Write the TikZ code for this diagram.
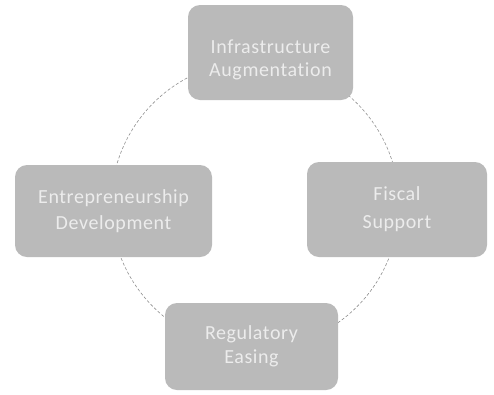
\documentclass[tikz,border=0pt]{standalone}
\usepackage{fontspec}
\setmainfont{Carlito}[Ligatures=NoCommon, LetterSpace=3]
\definecolor{boxgray}{RGB}{186,186,186}
\definecolor{txtgray}{RGB}{236,236,236}
\definecolor{dashgray}{RGB}{145,145,145}
\begin{document}
\begin{tikzpicture}[x=1pt,y=-1pt,
  cyclebox/.style={fill=boxgray, draw=none, rounded corners=12pt, inner sep=0pt,
    text=txtgray, font=\fontsize{20}{24}\selectfont, align=center},
  ring/.style={draw=dashgray, line width=0.6pt, dash pattern=on 3pt off 2pt}]
\useasboundingbox (0,0) rectangle (494,394);
\fill[white] (0,0) rectangle (494,394);
\coordinate (c) at (255,205);
\draw[ring] (c) circle[radius=144];
\node[cyclebox, minimum width=165pt, minimum height=95pt,
  label={[text=txtgray, font=\fontsize{20}{23}\selectfont, align=center, yshift=-7pt]center:Infrastructure\\Augmentation}] (infra) at (270.5,52.5) {};
\node[cyclebox, minimum width=197pt, minimum height=92pt, font=\fontsize{20}{26}\selectfont] (entre) at (113.5,211) {Entrepreneurship\\Development};
\node[cyclebox, minimum width=180pt, minimum height=95pt, font=\fontsize{20}{28}\selectfont] (fiscal) at (397,209.5) {Fiscal\\Support};
\node[cyclebox, minimum width=173pt, minimum height=87pt, font=\fontsize{20}{24}\selectfont] (reg) at (251.5,346.5) {Regulatory\\Easing};
\end{tikzpicture}
\end{document}
